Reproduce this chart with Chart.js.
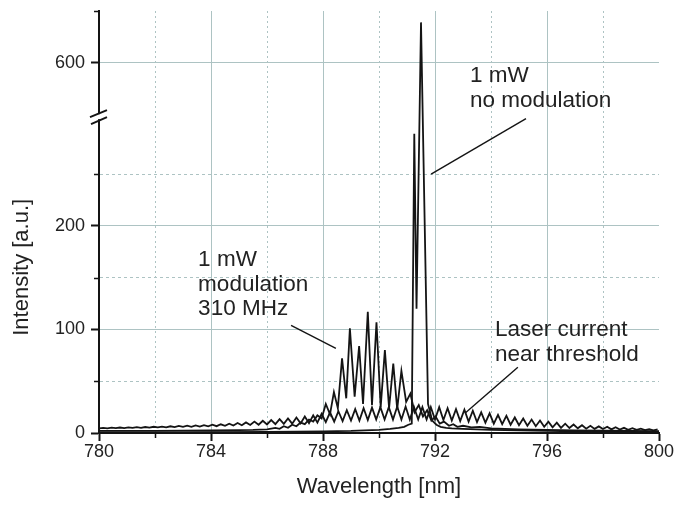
<!DOCTYPE html>
<html>
<head>
<meta charset="utf-8">
<script src="https://cdn.jsdelivr.net/npm/chart.js@4.4.1/dist/chart.umd.min.js"></script>
<style>
  html, body { margin: 0; padding: 0; background: #fff; }
</style>
</head>
<body>
<canvas id="spectrum" width="676" height="509"></canvas>
<script>
// wavelength samples [nm] and intensities [a.u.]

// laser current near threshold (broad fringe pattern)
const wlThreshold = [
  780.00,780.15,780.30,780.45,780.60,780.75,780.90,781.05,781.20,781.35,
  781.50,781.65,781.80,781.95,782.10,782.25,782.40,782.55,782.70,782.85,
  783.00,783.15,783.30,783.45,783.60,783.75,783.90,784.05,784.20,784.35,
  784.50,784.65,784.80,784.95,785.10,785.25,785.40,785.55,785.70,785.85,
  786.00,786.15,786.30,786.45,786.60,786.75,786.90,787.05,787.20,787.35,
  787.50,787.65,787.80,787.95,788.10,788.25,788.40,788.55,788.70,788.85,
  789.00,789.15,789.30,789.45,789.60,789.75,789.90,790.05,790.20,790.35,
  790.50,790.65,790.80,790.95,791.10,791.25,791.40,791.55,791.70,791.85,
  792.00,792.15,792.30,792.45,792.60,792.75,792.90,793.05,793.20,793.35,
  793.50,793.65,793.80,793.95,794.10,794.25,794.40,794.55,794.70,794.85,
  795.00,795.15,795.30,795.45,795.60,795.75,795.90,796.05,796.20,796.35,
  796.50,796.65,796.80,796.95,797.10,797.25,797.40,797.55,797.70,797.85,
  798.00,798.15,798.30,798.45,798.60,798.75,798.90,799.05,799.20,799.35,
  799.50,799.65,799.80,799.95
];
const threshold = [
  4.5,5, 4.5,5.2, 4.7,5.3, 4.8,5.5, 5,5.6,
  5,5.8, 5.2,6, 5.4,6.2, 5.5,6.5, 5.7,6.8,
  5.9,7, 6,7.3, 6.2,7.6, 6.4,8, 6.6,8.4,
  7,9, 7.2,9.6, 7.5,10.2, 7.8,11, 8,11.8,
  8.3,12.5, 8.5,13.3, 8.8,14, 9,15, 9.3,16,
  9.5,17, 10,18.5, 10.5,20, 11,21, 11.5,22,
  12,23, 12,24, 12.5,24.5, 13,25, 13,25,
  13,25.5, 13,25.5, 13,25, 13,25, 13,25,
  13,25, 12.5,24, 12,23, 11.5,22.5, 11,21.5,
  10.5,20, 10,19, 9,17.5, 8.5,16.5, 8,15,
  7.5,14, 7,13, 6.5,12, 6,11, 5.5,10,
  5,9, 4.8,8.2, 4.5,7.5, 4.2,7, 4,6.4,
  3.8,6, 3.5,5.5, 3.3,5, 3.1,4.6, 3,4.2,
  2.8,3.8, 2.6,3.5
];

// 1 mW, modulation 310 MHz
const wlModulated = [
  780, 781, 782, 783, 784, 785, 785.5, 786.0,
  786.3, 786.45, 786.6, 786.75, 786.9, 787.05, 787.2, 787.35, 787.5, 787.65, 787.8, 787.95,
  788.1, 788.25, 788.39, 788.53, 788.68, 788.83, 788.96, 789.13, 789.29, 789.43,
  789.6, 789.75, 789.91, 790.06, 790.21, 790.36, 790.51, 790.65, 790.8, 790.97,
  791.12, 791.27, 791.42, 791.57, 791.72, 791.87, 792.02, 792.17, 792.32, 792.5,
  792.65, 792.8, 793.0, 793.3, 793.6, 794, 794.5, 795, 796, 797,
  798, 799, 800
];
const modulated = [
  2, 2, 2, 2.2, 2.4, 2.8, 3, 3.5,
  5, 4, 6.5, 5, 8, 6.5, 10, 8.5, 13, 11, 17, 14,
  28, 18, 39.5, 24, 72, 33.5, 101, 35, 84, 28,
  117, 27, 107, 25, 80, 24, 67, 23, 60, 30,
  38, 20, 27, 16, 22, 12, 16, 9, 11, 7,
  8.5, 6, 7, 5.5, 6, 4.5, 4, 3.5, 3, 2.5,
  2.2, 2, 1.8
];

// 1 mW, no modulation
const wlNoMod = [
  780, 782, 784, 786, 787, 788, 789, 789.5, 790, 790.4,
  790.7, 790.9, 791.05, 791.17, 791.26, 791.34, 791.5, 791.75, 791.9, 792.05,
  792.2, 792.4, 792.6, 793, 793.5, 794, 795, 796, 797, 798,
  799, 800
];
const noModulation = [
  0.5, 0.6, 0.8, 1, 1.3, 1.6, 2, 2.5, 3, 4,
  5, 6, 8, 9, 289, 120, 639, 28, 12, 8,
  6, 5, 4.5, 4, 3.5, 3, 2.5, 2, 1.5, 1.2,
  1, 0.8
];

// axis ticks (real intensity units)
const xTickLabels = [780, 784, 788, 792, 796, 800];
const yTicks = [0, 50, 100, 150, 200, 250, 600, 650];
const yTickLabels = [0, 100, 200, 600];

// broken intensity axis: 0..305 below the break, 547.5..650 above it
const breakLow = 305;
const breakHigh = 547.5;
const yTop = 650;
const toAxis = v => v <= breakLow ? v : breakLow + Math.max(0, v - breakHigh);
const fromAxis = a => a <= breakLow ? a : a - breakLow + breakHigh;

// text labels with leader lines, placed in data units
const notes = [
  { x: 793.25, y: 581, lines: ['1 mW', 'no modulation'], from: [791.86, 250], to: [795.25, 303.5] },
  { x: 783.54, y: 161, lines: ['1 mW', 'modulation', '310 MHz'], from: [786.86, 104], to: [788.46, 81.8] },
  { x: 794.14, y: 93.4, lines: ['Laser current', 'near threshold'], from: [794.96, 63.5], to: [793.07, 19] }
];
// the y title sits centred on the lower part of the axis
const yTitle = { text: 'Intensity [a.u.]', at: 160 };

const ink = '#141414';
const gridColor = '#adc3c3';
const fontFamily = "'Liberation Sans', Arial, Helvetica, sans-serif";
Chart.defaults.font.family = fontFamily;
Chart.defaults.color = '#222';

const toPoints = (xs, ys) => xs.map((w, i) => ({ x: w, y: toAxis(ys[i]) }));

const lineStyle = {
  borderColor: ink,
  borderWidth: 1.8,
  pointRadius: 0,
  tension: 0,
  fill: false
};

const isMajorY = v => yTickLabels.includes(Math.round(fromAxis(v)));
const isMajorX = v => xTickLabels.includes(Math.round(v));

// extra drawing: short minor ticks, axis break marks, annotations, y title
const extras = {
  id: 'extras',
  afterDraw(chart) {
    const { ctx, chartArea: a, scales: { x, y } } = chart;
    const px = v => x.getPixelForValue(v);
    const py = v => y.getPixelForValue(toAxis(v));
    ctx.save();

    ctx.strokeStyle = ink;
    ctx.lineWidth = 1.5;
    ctx.beginPath();
    x.ticks.filter(t => !isMajorX(t.value)).forEach(t => {
      const p = Math.round(px(t.value)) + 0.5;
      ctx.moveTo(p, a.bottom);
      ctx.lineTo(p, a.bottom + 5);
    });
    y.ticks.filter(t => !isMajorY(t.value)).forEach(t => {
      const p = Math.round(y.getPixelForValue(t.value)) + 0.5;
      ctx.moveTo(a.left, p);
      ctx.lineTo(a.left - 5, p);
    });
    ctx.stroke();

    // axis break
    const yb = y.getPixelForValue(breakLow);
    ctx.fillStyle = '#fff';
    ctx.fillRect(a.left - 3, yb - 3, 6, 5);
    ctx.lineWidth = 2;
    ctx.beginPath();
    ctx.moveTo(a.left - 9, yb); ctx.lineTo(a.left + 8, yb - 7);
    ctx.moveTo(a.left - 8, yb + 7); ctx.lineTo(a.left + 8, yb);
    ctx.stroke();

    // annotations
    ctx.font = '22.5px ' + fontFamily;
    ctx.fillStyle = '#222';
    ctx.textBaseline = 'alphabetic';
    ctx.textAlign = 'left';
    ctx.lineWidth = 1.4;
    notes.forEach(n => {
      n.lines.forEach((t, i) => ctx.fillText(t, px(n.x), py(n.y) + i * 24.5));
      ctx.beginPath();
      ctx.moveTo(px(n.from[0]), py(n.from[1]));
      ctx.lineTo(px(n.to[0]), py(n.to[1]));
      ctx.stroke();
    });

    // y axis title
    ctx.font = '22px ' + fontFamily;
    ctx.textAlign = 'center';
    ctx.textBaseline = 'middle';
    ctx.translate(22, py(yTitle.at));
    ctx.rotate(-Math.PI / 2);
    ctx.fillText(yTitle.text, 0, 0);
    ctx.restore();
  }
};

new Chart(document.getElementById('spectrum'), {
  type: 'line',
  data: {
    datasets: [
      { label: 'Laser current near threshold', data: toPoints(wlThreshold, threshold), ...lineStyle },
      { label: '1 mW modulation 310 MHz', data: toPoints(wlModulated, modulated), ...lineStyle },
      { label: '1 mW no modulation', data: toPoints(wlNoMod, noModulation), ...lineStyle }
    ]
  },
  options: {
    responsive: false,
    animation: false,
    layout: { padding: { left: 0, right: 17, top: 11, bottom: 0 } },
    plugins: {
      legend: { display: false },
      tooltip: { enabled: false }
    },
    scales: {
      x: {
        type: 'linear',
        min: 780,
        max: 800,
        afterFit: s => { s.height = 76; s.paddingLeft = 0; s.paddingRight = 0; },
        ticks: {
          stepSize: 2,
          autoSkip: false,
          maxRotation: 0,
          padding: 0,
          font: { size: 18 },
          callback: v => isMajorX(v) ? String(v) : ''
        },
        grid: {
          color: c => (c.tick && (c.tick.value === 780 || c.tick.value === 800)) ? 'rgba(0,0,0,0)' : gridColor,
          lineWidth: 1,
          tickLength: 8,
          tickWidth: 2,
          tickColor: c => (c.tick && isMajorX(c.tick.value)) ? ink : 'rgba(0,0,0,0)'
        },
        border: {
          color: ink,
          width: 2,
          dash: c => (c.tick && !isMajorX(c.tick.value)) ? [2, 3] : []
        },
        title: {
          display: true,
          text: 'Wavelength [nm]',
          font: { size: 22 },
          padding: { top: 0, bottom: 9 }
        }
      },
      y: {
        type: 'linear',
        min: 0,
        max: toAxis(yTop),
        afterFit: s => { s.width = 99; s.paddingTop = 0; s.paddingBottom = 0; },
        afterBuildTicks: s => { s.ticks = yTicks.map(v => ({ value: toAxis(v) })); },
        ticks: {
          padding: 6,
          font: { size: 18 },
          callback: v => isMajorY(v) ? String(Math.round(fromAxis(v))) : ''
        },
        grid: {
          color: c => {
            if (!c.tick) return gridColor;
            const v = Math.round(fromAxis(c.tick.value));
            return (v === 0 || v === yTop) ? 'rgba(0,0,0,0)' : gridColor;
          },
          lineWidth: 1,
          tickLength: 8,
          tickWidth: 2,
          tickColor: c => (c.tick && isMajorY(c.tick.value)) ? ink : 'rgba(0,0,0,0)'
        },
        border: {
          color: ink,
          width: 2,
          dash: c => (c.tick && !isMajorY(c.tick.value)) ? [3, 3] : []
        }
      }
    }
  },
  plugins: [extras]
});
</script>
</body>
</html>
